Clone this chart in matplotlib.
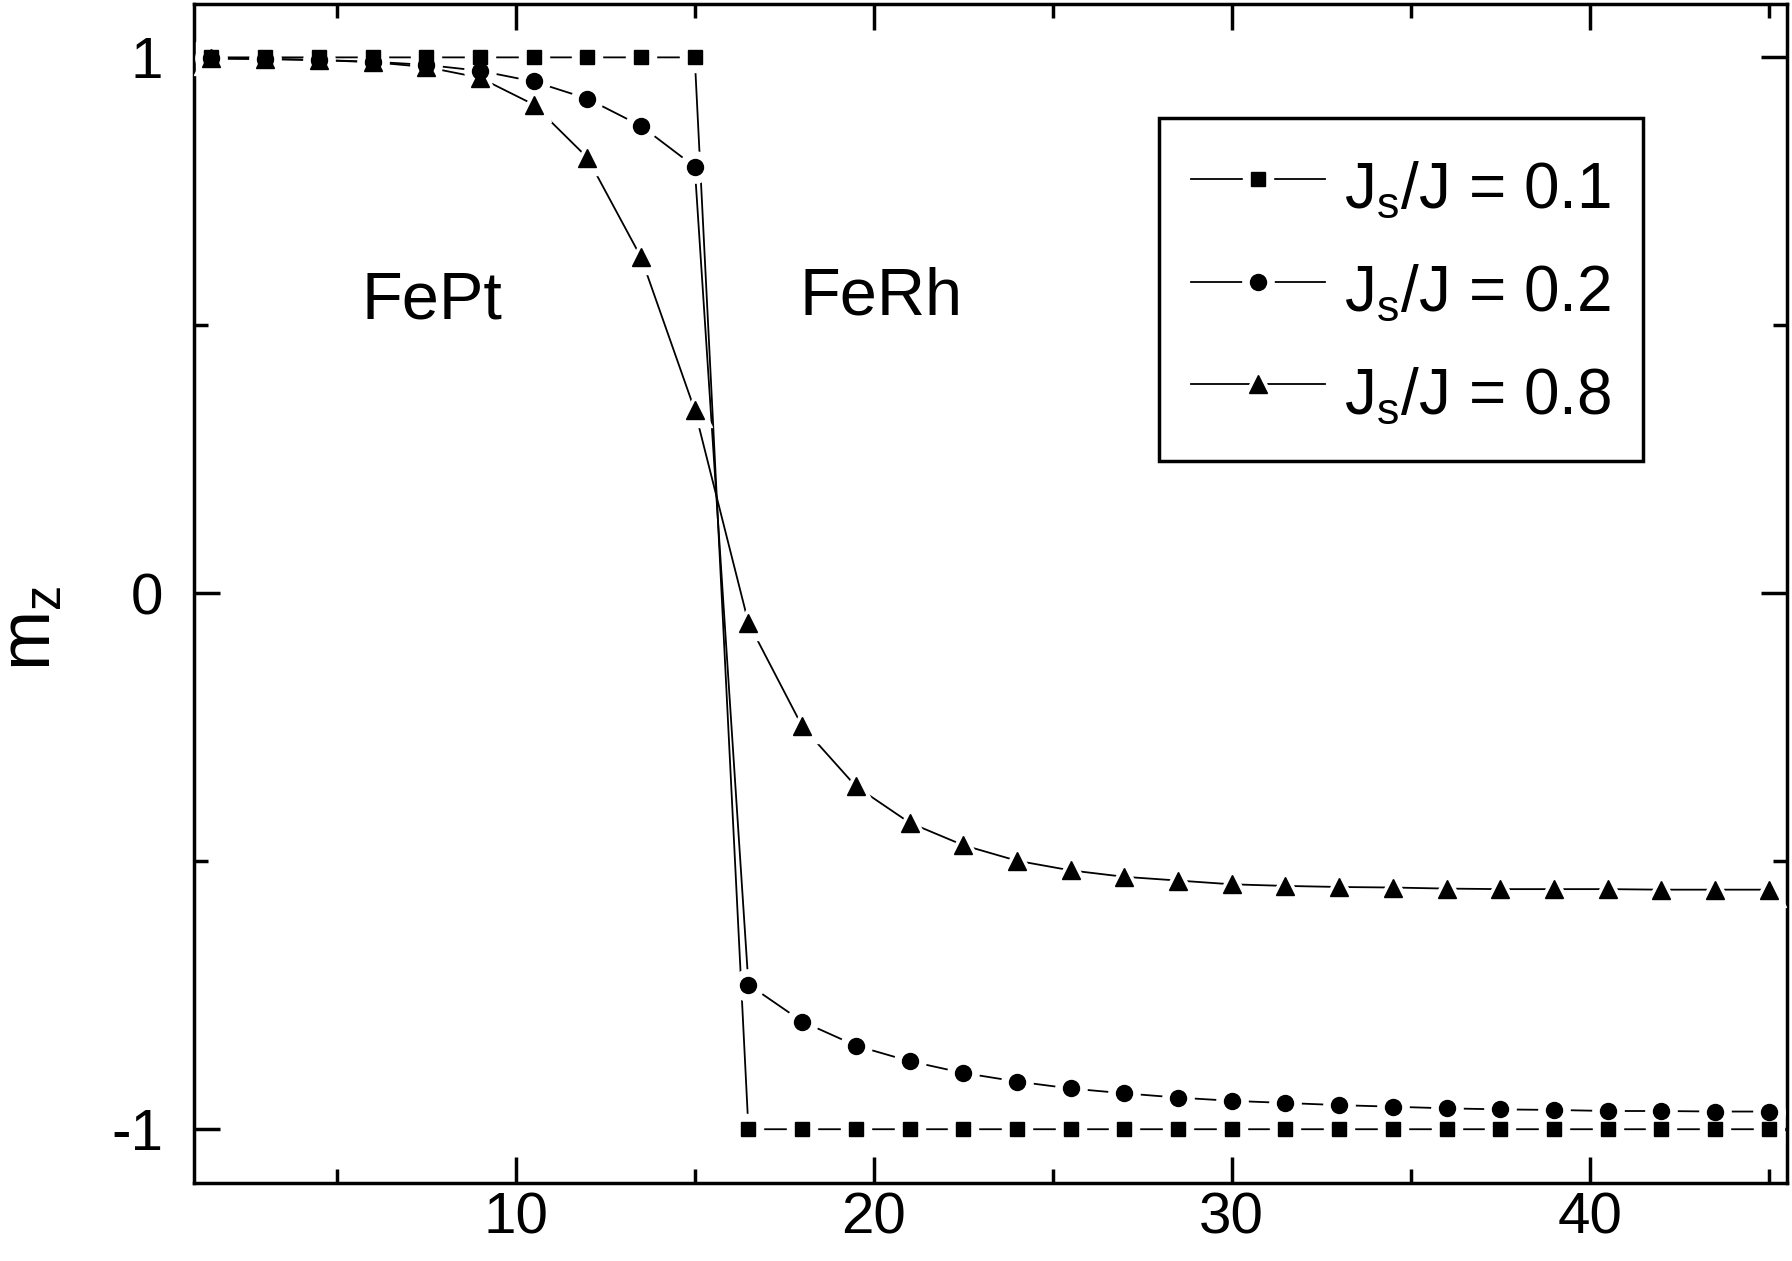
import numpy as np
import matplotlib
matplotlib.use('Agg')
import matplotlib.pyplot as plt
from matplotlib.ticker import FixedLocator
from matplotlib.legend_handler import HandlerTuple

plt.rcParams['font.family'] = ['Liberation Sans', 'DejaVu Sans']
plt.rcParams['mathtext.fontset'] = 'custom'
plt.rcParams['mathtext.rm'] = 'Liberation Sans'
plt.rcParams['mathtext.it'] = 'Liberation Sans'
plt.rcParams['axes.unicode_minus'] = False

# layer position across the FePt/FeRh stack
pos = [1.5, 3, 4.5, 6, 7.5, 9, 10.5, 12, 13.5, 15,
       16.5, 18, 19.5, 21, 22.5, 24, 25.5, 27, 28.5, 30,
       31.5, 33, 34.5, 36, 37.5, 39, 40.5, 42, 43.5, 45]

# m_z profiles for the three interface couplings
mz_01 = [1, 1, 1, 1, 1, 1, 1, 1, 1, 1,
         -1, -1, -1, -1, -1, -1, -1, -1, -1, -1,
         -1, -1, -1, -1, -1, -1, -1, -1, -1, -1]
mz_02 = [0.998, 0.997, 0.995, 0.992, 0.986, 0.975, 0.955, 0.923, 0.872, 0.796,
         -0.730, -0.799, -0.844, -0.873, -0.895, -0.911, -0.924, -0.933, -0.941, -0.947,
         -0.951, -0.955, -0.958, -0.961, -0.963, -0.964, -0.966, -0.966, -0.967, -0.967]
mz_08 = [0.998, 0.997, 0.995, 0.991, 0.982, 0.962, 0.912, 0.813, 0.627, 0.342,
         -0.055, -0.248, -0.360, -0.428, -0.470, -0.499, -0.517, -0.529, -0.536, -0.543,
         -0.546, -0.548, -0.549, -0.551, -0.552, -0.552, -0.552, -0.553, -0.553, -0.553]

labels = [r'$\mathregular{J_s/J}$ = 0.1', r'$\mathregular{J_s/J}$ = 0.2', r'$\mathregular{J_s/J}$ = 0.8']
markers = ['s', 'o', '^']
sizes = [10, 11.5, 13]

fig = plt.figure(figsize=(17.92, 12.61), dpi=100)
ax = fig.add_axes([0.108, 0.062, 0.889, 0.935])

# line, white gap around each marker, then the black marker on top
handles = []
for y, m, s in zip([mz_01, mz_02, mz_08], markers, sizes):
    ln, = ax.plot(pos, y, '-', color='black', lw=1.3, zorder=2)
    halo, = ax.plot(pos, y, ls='none', marker=m, ms=s + 11, mfc='white', mec='white', zorder=3)
    pt, = ax.plot(pos, y, ls='none', marker=m, ms=s, mfc='black', mec='black', zorder=4)
    handles.append((ln, halo, pt))

ax.set_xlim(1, 45.5)
ax.set_ylim(-1.1, 1.1)
ax.xaxis.set_major_locator(FixedLocator([10, 20, 30, 40]))
ax.xaxis.set_minor_locator(FixedLocator([5, 15, 25, 35, 45]))
ax.yaxis.set_major_locator(FixedLocator([-1, 0, 1]))
ax.yaxis.set_minor_locator(FixedLocator([-0.5, 0.5]))
ax.tick_params(which='both', direction='in', top=True, right=True, width=2.5)
ax.tick_params(which='major', length=19)
ax.tick_params(which='minor', length=10)
ax.tick_params(axis='x', labelsize=42, pad=6)
ax.tick_params(axis='y', labelsize=42, pad=22)
for sp in ax.spines.values():
    sp.set_linewidth(2.5)

ax.set_ylabel(r'$\mathregular{m_z}$', fontsize=52)
ax.yaxis.set_label_coords(-0.08, 0.47)

ax.text(7.65, 0.545, 'FePt', ha='center', va='center', fontsize=48)
ax.text(20.2, 0.552, 'FeRh', ha='center', va='center', fontsize=48)

leg = ax.legend(handles, labels, handler_map={tuple: HandlerTuple(ndivide=1)},
                loc='upper left', bbox_to_anchor=(0.606, 0.903), borderaxespad=0,
                fontsize=46, numpoints=1, handlelength=2.1, handletextpad=0.3,
                borderpad=0.5, handleheight=1.4, fancybox=False, framealpha=1,
                edgecolor='black', labelspacing=0.45)
leg.get_frame().set_linewidth(2.5)

plt.savefig('out.png', dpi=100)
